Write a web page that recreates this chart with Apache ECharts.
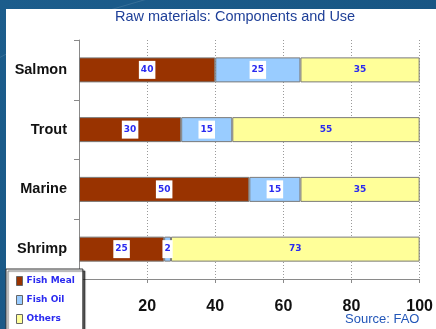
<!DOCTYPE html>
<html>
<head>
<meta charset="utf-8">
<script src="https://cdn.jsdelivr.net/npm/echarts@6/dist/echarts.min.js"></script>
<style>
  html, body { margin: 0; padding: 0; }
  #chart { width: 436px; height: 329px; }
</style>
</head>
<body>
<div id="chart"></div>
<script>
// Raw material composition of feeds, by farmed species (percent)
const categories = ['Salmon', 'Trout', 'Marine', 'Shrimp'];
const fishMeal = [40, 30, 50, 25];
const fishOil = [25, 15, 15, 2];
const others = [35, 55, 35, 73];
const xTicks = [0, 20, 40, 60, 80, 100];

const labelFont = { fontFamily: 'DejaVu Sans', fontWeight: 'bold', fontSize: 9, color: '#2a2af0' };

function makeSeries(name, data, color, boxed) {
  return {
    name: name,
    type: 'bar',
    stack: 'total',
    data: data,
    barWidth: 25,
    itemStyle: { color: color, borderColor: '#7a7a7a', borderWidth: 1 },
    label: Object.assign({
      show: true,
      position: 'inside',
      formatter: '{c}',
      backgroundColor: boxed ? '#ffffff' : 'transparent',
      padding: boxed ? [5, 2, 4, 2] : 0
    }, labelFont)
  };
}

const chart = echarts.init(document.getElementById('chart'));
chart.setOption({
  animation: false,
  backgroundColor: {
    type: 'linear', x: 0, y: 0, x2: 1, y2: 1,
    colorStops: [{ offset: 0, color: '#1c5d8c' }, { offset: 1, color: '#16527f' }]
  },
  graphic: [
    // faint swirl in the backdrop
    { type: 'arc', shape: { cx: 300, cy: 600, r: 620, startAngle: -2.2, endAngle: -1.2 },
      style: { stroke: 'rgba(255,255,255,0.12)', lineWidth: 1, fill: null }, z: -2 },
    // white panel
    { type: 'rect', shape: { x: 6, y: 9, width: 430, height: 320 },
      style: { fill: '#ffffff' }, z: -1 },
    { type: 'text', left: 345, top: 313,
      style: { text: 'Source: FAO', fill: '#2256b8', font: '13px "Liberation Sans", Arial, sans-serif' }, z: 5 }
  ],
  title: {
    text: 'Raw materials: Components and Use',
    left: 115, top: 9, padding: 0,
    textStyle: { color: '#1e3f98', fontSize: 14.5, fontWeight: 'normal', fontFamily: 'Liberation Sans' }
  },
  legend: {
    orient: 'vertical',
    left: 6, top: 269,
    height: 90,
    padding: [7, 8, 14, 10],
    itemGap: 9,
    itemWidth: 6, itemHeight: 9,
    backgroundColor: '#ffffff',
    borderColor: '#333333', borderWidth: 1,
    shadowColor: 'rgba(0,0,0,0.6)', shadowOffsetX: 2, shadowOffsetY: 2, shadowBlur: 1,
    icon: 'rect',
    itemStyle: { borderColor: '#666666', borderWidth: 1 },
    textStyle: { fontFamily: 'DejaVu Sans', fontWeight: 'bold', fontSize: 9, color: '#2a2af0', padding: [0, 0, 0, -1] },
    data: ['Fish Meal', 'Fish Oil', 'Others'],
    z: 10
  },
  grid: { left: 79, right: 11, top: 40, bottom: 50, containLabel: false },
  xAxis: {
    type: 'value', min: 0, max: 100, interval: 20,
    axisLine: { show: true, lineStyle: { color: '#8a8a8a' } },
    axisTick: { show: true, length: 4, lineStyle: { color: '#8a8a8a' } },
    splitLine: { show: true, lineStyle: { color: '#9a9a9a', type: [1, 2] } },
    axisLabel: {
      margin: 20, color: '#111111', fontSize: 16, fontWeight: 'bold', fontFamily: 'Liberation Sans',
      formatter: v => (xTicks.includes(v) && v !== 0 ? String(v) : '')
    }
  },
  yAxis: {
    type: 'category', data: categories, inverse: true,
    axisLine: { show: true, lineStyle: { color: '#8a8a8a' } },
    axisTick: { show: true, length: 5, lineStyle: { color: '#8a8a8a' } },
    axisLabel: { margin: 12, color: '#111111', fontSize: 14.5, fontWeight: 'bold', fontFamily: 'Liberation Sans' }
  },
  series: [
    makeSeries('Fish Meal', fishMeal, '#993300', true),
    makeSeries('Fish Oil', fishOil, '#99ccff', true),
    makeSeries('Others', others, '#ffff99', false)
  ]
});
</script>
</body>
</html>
